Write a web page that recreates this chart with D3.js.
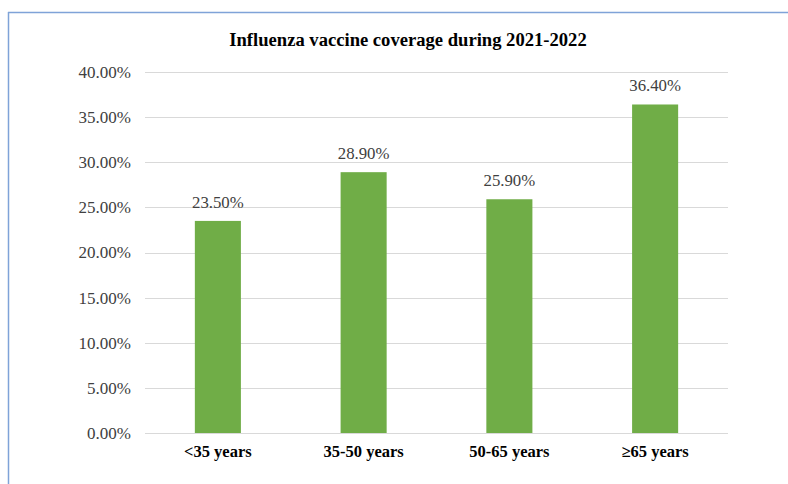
<!DOCTYPE html>
<html>
<head>
<meta charset="utf-8">
<script src="https://cdn.jsdelivr.net/npm/d3@7"></script>
<style>
  html, body { margin: 0; padding: 0; background: #fff; }
  svg { display: block; }
</style>
</head>
<body>
<svg id="chart" width="788" height="484"></svg>
<script>
const categories = ["<35 years", "35-50 years", "50-65 years", "\u226565 years"];
const coverage = [23.5, 28.9, 25.9, 36.4];
const yTicks = [0, 5, 10, 15, 20, 25, 30, 35, 40];
const chartTitle = "Influenza vaccine coverage during 2021-2022";

const svg = d3.select("#chart");
const serif = "'Liberation Serif', 'Times New Roman', serif";

// Frame around the chart (left and top edges only are in view)
svg.append("line").attr("x1", 8.5).attr("x2", 8.5).attr("y1", 12).attr("y2", 484)
  .attr("stroke", "#7fa3d8").attr("stroke-width", 1.5);
svg.append("line").attr("x1", 8).attr("x2", 788).attr("y1", 12.5).attr("y2", 12.5)
  .attr("stroke", "#7fa3d8").attr("stroke-width", 1.5);

const plot = { left: 145, right: 728, top: 72, bottom: 433 };

const x = d3.scaleBand().domain(categories).range([plot.left, plot.right]).padding(0);
const y = d3.scaleLinear().domain([0, 40]).range([plot.bottom, plot.top]);
const barW = x.bandwidth() * 0.316;

// Horizontal gridlines
svg.append("g").selectAll("line").data(yTicks).join("line")
  .attr("x1", plot.left).attr("x2", plot.right)
  .attr("y1", d => Math.round(y(d)) + 0.5).attr("y2", d => Math.round(y(d)) + 0.5)
  .attr("stroke", "#d9d9d9").attr("stroke-width", 1);

// Y axis labels
const yAxis = d3.axisLeft(y).tickValues(yTicks).tickFormat(d => d.toFixed(2) + "%").tickSize(0).tickPadding(14);
const yg = svg.append("g").attr("transform", `translate(${plot.left},0)`).call(yAxis);
yg.select(".domain").remove();
yg.selectAll("text").attr("font-family", serif).attr("font-size", 17).attr("fill", "#404040");

// Bars
svg.append("g").selectAll("rect").data(categories).join("rect")
  .attr("x", (d) => x(d) + x.bandwidth() / 2 - barW / 2)
  .attr("width", barW)
  .attr("y", (d, i) => y(coverage[i]))
  .attr("height", (d, i) => y(0) - y(coverage[i]))
  .attr("fill", "#70ad47");

// Value labels
svg.append("g").selectAll("text").data(categories).join("text")
  .attr("x", d => x(d) + x.bandwidth() / 2)
  .attr("y", (d, i) => y(coverage[i]) - 13)
  .attr("text-anchor", "middle")
  .attr("font-family", serif).attr("font-size", 16.8).attr("fill", "#404040")
  .text((d, i) => coverage[i].toFixed(2) + "%");

// Category labels
const xAxis = d3.axisBottom(x).tickSize(0).tickPadding(12);
const xg = svg.append("g").attr("transform", `translate(0,${plot.bottom})`).call(xAxis);
xg.select(".domain").remove();
xg.selectAll("text").attr("font-family", serif).attr("font-size", 16.5)
  .attr("font-weight", "bold").attr("fill", "#000");

// Title
svg.append("text").attr("x", 408).attr("y", 46).attr("text-anchor", "middle")
  .attr("font-family", serif).attr("font-size", 18.6).attr("font-weight", "bold")
  .attr("fill", "#000").text(chartTitle);
</script>
</body>
</html>
